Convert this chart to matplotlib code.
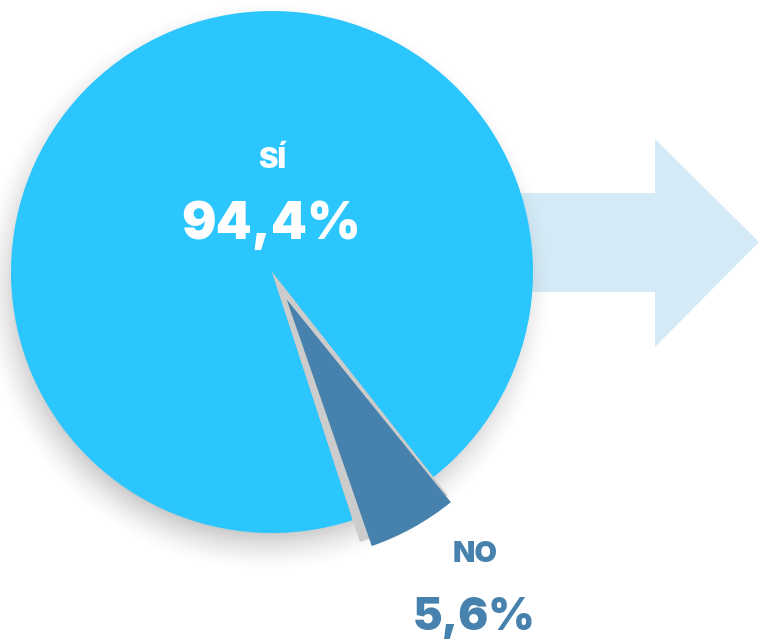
import numpy as np
import matplotlib
matplotlib.use('Agg')
import matplotlib.pyplot as plt
from matplotlib.patches import Wedge, Polygon

# answer shares
labels = ['SÍ', 'NO']
shares = [94.4, 5.6]
value_text = ['94,4%', '5,6%']

C_YES = '#2bc6fe'
C_NO = '#4682ad'
C_EDGE = '#cccccc'
C_ARROW = '#d4ebf7'

W, H = 759, 642
fig = plt.figure(figsize=(W / 100, H / 100), dpi=100)
ax = fig.add_axes([0, 0, 1, 1])

cx, cy, r = 272, H - 272, 261

# arrow behind the pie
arrow = Polygon([(520, H - 193), (655, H - 193), (655, H - 139), (759, H - 242),
                 (655, H - 347), (655, H - 292), (520, H - 292)],
                closed=True, facecolor=C_ARROW, edgecolor='none', zorder=1)
ax.add_patch(arrow)

# soft drop shadow: blurred disc offset downwards
yy, xx = np.mgrid[0:H, 0:W]
d = np.hypot(xx - (cx - 6), (H - yy) - (cy - 14))
blur = 24.0
alpha = np.clip((r + blur - d) / (2 * blur), 0, 1) ** 1.5 * 0.5
shadow = np.zeros((H, W, 4))
shadow[..., :3] = 0.45
shadow[..., 3] = alpha
ax.imshow(shadow, extent=(0, W, 0, H), origin='upper', zorder=2, interpolation='bilinear')

# pie: SÍ slice first, NO slice ending at the lower right
start = -51.8
wedges, _ = ax.pie(shares, colors=[C_YES, C_NO], startangle=start, counterclock=True,
                   center=(cx, cy), radius=r, frame=True,
                   wedgeprops=dict(linewidth=0))
for w in wedges:
    w.set_zorder(3)

# NO slice: grey backing plus slightly pulled-out dark wedge
t1, t2 = wedges[1].theta1, wedges[1].theta2
wedges[1].set_visible(False)
ax.add_patch(Wedge((cx, cy), 284, t1, t2, facecolor=C_EDGE, edgecolor='none', zorder=4))
mid = np.deg2rad((t1 + t2) / 2)
off = 31
ax.add_patch(Wedge((cx + off * np.cos(mid), cy + off * np.sin(mid)), r, t1 + 1, t2 + 0.8,
                   facecolor=C_NO, edgecolor='none', zorder=5))

ax.set_xlim(0, W)
ax.set_ylim(0, H)
ax.set_aspect('equal')
ax.axis('off')

font = ['Inter', 'DejaVu Sans']
ax.text(272, H - 160, labels[0], color='white', fontsize=21, fontweight='black',
        ha='center', va='center', family=font, zorder=6)
ax.text(271, H - 225, value_text[0], color='white', fontsize=37, fontweight='black',
        ha='center', va='center', family=font, zorder=6)
ax.text(475, H - 555, labels[1], color=C_NO, fontsize=21, fontweight='black',
        ha='center', va='center', family=font, zorder=6)
ax.text(474, H - 618, value_text[1], color=C_NO, fontsize=32, fontweight='black',
        ha='center', va='center', family=font, zorder=6)

fig.savefig('out.png', dpi=100)
